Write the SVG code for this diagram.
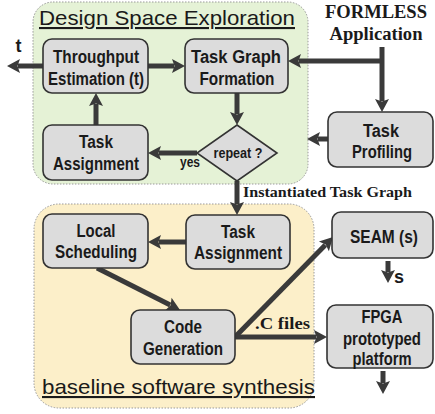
<svg xmlns="http://www.w3.org/2000/svg" width="435" height="414" viewBox="0 0 435 414">
<style>
.cont{stroke:#9a9a9a;stroke-width:1;stroke-dasharray:1.5 1.5}
.box{fill:#dcdcdc;stroke:#333;stroke-width:1.6}
.bt{font-family:"Liberation Sans",Arial,sans-serif;font-weight:bold;fill:#1a1a1a;text-anchor:middle}
.st{font-family:"Liberation Serif","Times New Roman",serif;font-weight:bold;fill:#1a1a1a}
.ttl{font-family:"Liberation Sans",Arial,sans-serif;font-size:21px;fill:#1a1a1a;text-decoration:underline}
.ar{stroke:#3a3a3a;stroke-width:5;fill:none;marker-end:url(#ah)}
</style>
<defs>
<marker id="ah" markerUnits="userSpaceOnUse" markerWidth="15" markerHeight="16" refX="2" refY="8" orient="auto" overflow="visible">
<path d="M0,1 L13,8 L0,15 L2.5,8 z" fill="#3a3a3a"/>
</marker>
</defs>
<g id="dse-container">
<rect class="cont" x="33" y="2" width="275" height="182" rx="20" fill="#e5f2d6"/>
<text class="ttl" x="39" y="25" textLength="256" lengthAdjust="spacingAndGlyphs">Design Space Exploration</text>
</g>
<g id="bss-container">
<rect class="cont" x="34" y="204" width="280" height="204" rx="25" fill="#fcefc9"/>
<text class="ttl" x="42" y="394" textLength="273" lengthAdjust="spacingAndGlyphs">baseline software synthesis</text>
</g>
<g id="connectors">
<line class="ar" x1="148" y1="66" x2="174" y2="66"/>
<line class="ar" x1="43" y1="66" x2="18" y2="66"/>
<line class="ar" x1="96" y1="125" x2="96" y2="104"/>
<line class="ar" x1="237" y1="93" x2="237" y2="114"/>
<line class="ar" x1="197" y1="153" x2="159" y2="153"/>
<line class="ar" x1="382" y1="47" x2="382" y2="101"/>
<line class="ar" x1="382" y1="61" x2="299" y2="61"/>
<line class="ar" x1="328" y1="139" x2="318" y2="139"/>
<line class="ar" x1="237" y1="181" x2="237" y2="204"/>
<line class="ar" x1="186" y1="242" x2="159" y2="242"/>
<line class="ar" x1="97" y1="268" x2="170.2" y2="305"/>
<line class="ar" x1="235" y1="337" x2="325.3" y2="244.9"/>
<line class="ar" x1="235" y1="337" x2="316" y2="337"/>
<line class="ar" x1="388" y1="261" x2="388" y2="272"/>
<line class="ar" x1="383" y1="371" x2="383" y2="383"/>
<text class="bt" x="18.5" y="52" style="font-size:18px">t</text>
<text class="bt" x="190" y="167" style="font-size:14px" textLength="20" lengthAdjust="spacingAndGlyphs">yes</text>
<text class="st" x="243" y="197" font-size="15" textLength="169" lengthAdjust="spacingAndGlyphs">Instantiated Task Graph</text>
<text class="st" x="255" y="329" font-size="17" textLength="55" lengthAdjust="spacingAndGlyphs">.C files</text>
<text class="bt" x="399" y="283" style="font-size:18px">s</text>
</g>
<g id="formless-app">
<text class="st" x="376" y="18" font-size="18" text-anchor="middle" textLength="102" lengthAdjust="spacingAndGlyphs">FORMLESS</text>
<text class="st" x="376" y="40" font-size="18" text-anchor="middle" textLength="93" lengthAdjust="spacingAndGlyphs">Application</text>
</g>
<g id="throughput-estimation" style="font-size:17.5px">
<rect class="box" x="43" y="39" width="105" height="54" rx="9"/>
<text class="bt" x="96" y="63" textLength="86" lengthAdjust="spacingAndGlyphs">Throughput</text>
<text class="bt" x="96" y="85" textLength="96" lengthAdjust="spacingAndGlyphs">Estimation (t)</text>
</g>
<g id="task-graph-formation" style="font-size:17.5px">
<rect class="box" x="185" y="39" width="103" height="54" rx="9"/>
<text class="bt" x="236" y="63" textLength="90" lengthAdjust="spacingAndGlyphs">Task Graph</text>
<text class="bt" x="237" y="85" textLength="75" lengthAdjust="spacingAndGlyphs">Formation</text>
</g>
<g id="task-assignment-dse" style="font-size:17.5px">
<rect class="box" x="43" y="125" width="105" height="55" rx="9"/>
<text class="bt" x="96" y="148" textLength="34" lengthAdjust="spacingAndGlyphs">Task</text>
<text class="bt" x="96" y="170" textLength="86" lengthAdjust="spacingAndGlyphs">Assignment</text>
</g>
<g id="repeat-decision" style="font-size:14px">
<polygon class="box" points="237,125 277,153 237,181 197,153"/>
<text class="bt" x="238" y="158" textLength="49" lengthAdjust="spacingAndGlyphs">repeat ?</text>
</g>
<g id="task-profiling" style="font-size:18px">
<rect class="box" x="328" y="112" width="105" height="55" rx="9"/>
<text class="bt" x="381" y="137" textLength="36" lengthAdjust="spacingAndGlyphs">Task</text>
<text class="bt" x="382" y="158" textLength="60" lengthAdjust="spacingAndGlyphs">Profiling</text>
</g>
<g id="local-scheduling" style="font-size:17.5px">
<rect class="box" x="43" y="214" width="105" height="54" rx="9"/>
<text class="bt" x="96" y="237" textLength="39" lengthAdjust="spacingAndGlyphs">Local</text>
<text class="bt" x="96" y="258" textLength="82" lengthAdjust="spacingAndGlyphs">Scheduling</text>
</g>
<g id="task-assignment-bss" style="font-size:17.5px">
<rect class="box" x="186" y="215" width="104" height="54" rx="9"/>
<text class="bt" x="238" y="238" textLength="34" lengthAdjust="spacingAndGlyphs">Task</text>
<text class="bt" x="238" y="259" textLength="88" lengthAdjust="spacingAndGlyphs">Assignment</text>
</g>
<g id="code-generation" style="font-size:17.5px">
<rect class="box" x="131" y="310" width="104" height="54" rx="9"/>
<text class="bt" x="183" y="333" textLength="38" lengthAdjust="spacingAndGlyphs">Code</text>
<text class="bt" x="183" y="355" textLength="80" lengthAdjust="spacingAndGlyphs">Generation</text>
</g>
<g id="seam" style="font-size:18px">
<rect class="box" x="332" y="212" width="101" height="46" rx="9"/>
<text class="bt" x="384" y="243" textLength="68" lengthAdjust="spacingAndGlyphs">SEAM (s)</text>
</g>
<g id="fpga-platform" style="font-size:18px">
<rect class="box" x="327" y="305" width="106" height="63" rx="9"/>
<text class="bt" x="382" y="323" textLength="41" lengthAdjust="spacingAndGlyphs">FPGA</text>
<text class="bt" x="382" y="345" textLength="78" lengthAdjust="spacingAndGlyphs">prototyped</text>
<text class="bt" x="382" y="365" textLength="59" lengthAdjust="spacingAndGlyphs">platform</text>
</g>
</svg>
